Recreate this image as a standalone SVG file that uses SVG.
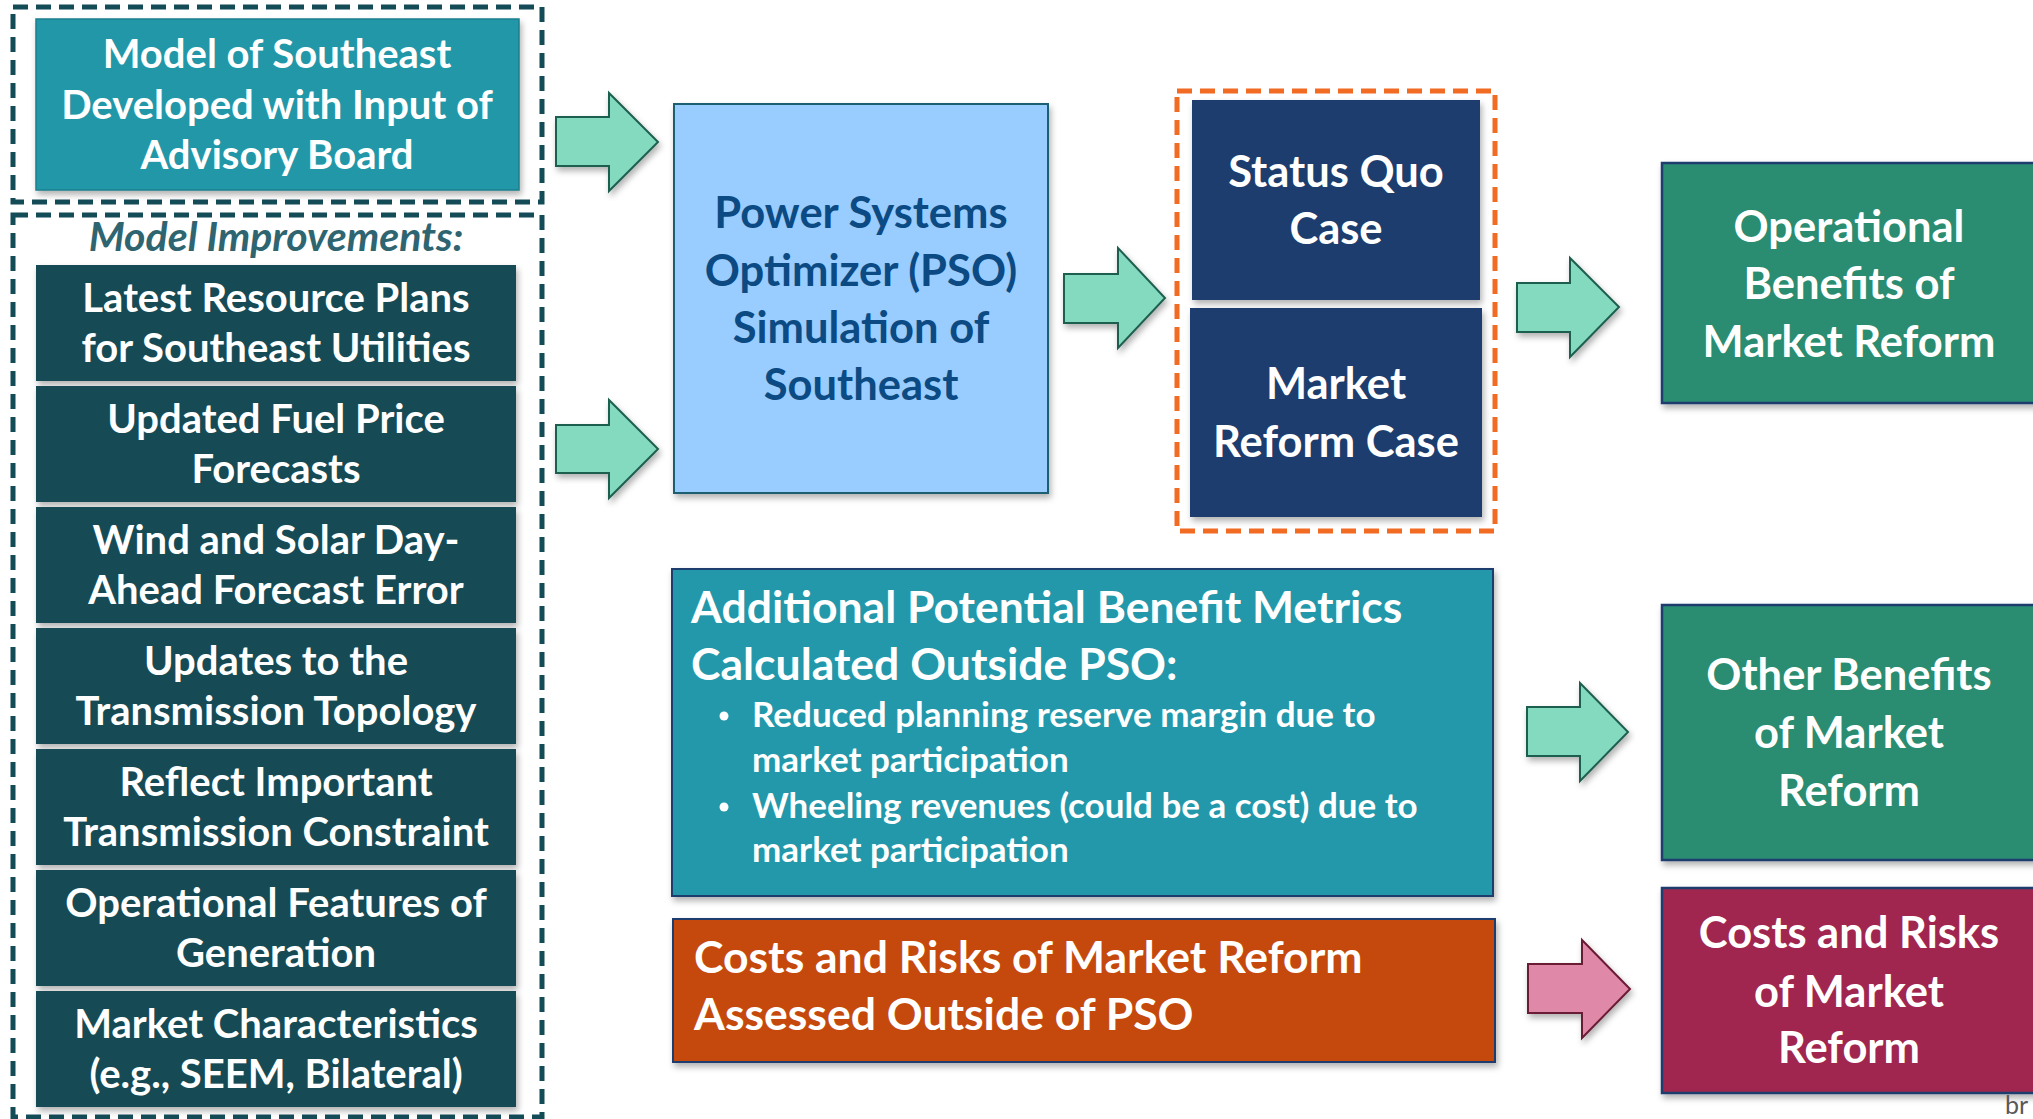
<svg xmlns="http://www.w3.org/2000/svg" width="2033" height="1119" viewBox="0 0 2033 1119">
<defs>
  <filter id="sh" x="-5%" y="-5%" width="112%" height="115%">
    <feDropShadow dx="2" dy="4" stdDeviation="3" flood-color="#000" flood-opacity="0.3"/>
  </filter>
  <style>
    .t { font-family: Lato, "Open Sans", "Liberation Sans", sans-serif; font-weight: 700; fill: #ffffff; }
    .c { text-anchor: middle; }
    .lb { font-size: 40px; }
    .rb { font-size: 43.5px; }
    .bl { font-size: 35px; }
    .dash { fill: none; stroke: #134B57; stroke-width: 5; stroke-dasharray: 15 8; }
    .dark { fill: #134B57; filter: url(#sh); }
    .arrow { fill: #83DABF; stroke: #1F5F4F; stroke-width: 2; filter: url(#sh); }
    .pink { fill: #E088A8; stroke: #6B1A35; stroke-width: 2; filter: url(#sh); }
    .green { fill: #2A8C70; stroke: #1F3C6E; stroke-width: 2.5; filter: url(#sh); }
    .navy { fill: #1E3C6E; filter: url(#sh); }
  </style>
</defs>
<rect width="2033" height="1119" fill="#ffffff"/>

<g id="advisory-group">
  <rect class="dash" x="13" y="7" width="529" height="195"/>
  <g id="model-southeast">
    <rect x="36" y="19" width="483" height="171" fill="#2397A8" stroke="#1E7F8E" stroke-width="1.5" filter="url(#sh)"/>
    <text class="t c lb" x="277" y="68">Model of Southeast</text>
    <text class="t c lb" x="277" y="119">Developed with Input of</text>
    <text class="t c lb" x="277" y="169">Advisory Board</text>
  </g>
</g>

<g id="improvements-group">
  <rect class="dash" x="13" y="215" width="529" height="902"/>
  <text x="276" y="251" font-family="Lato, 'Open Sans', sans-serif" font-weight="700" font-style="italic" font-size="41" fill="#2E6570" text-anchor="middle">Model Improvements:</text>
  <g id="imp1">
    <rect class="dark" x="36" y="265" width="480" height="116"/>
    <text class="t c lb" x="276" y="312">Latest Resource Plans</text>
    <text class="t c lb" x="276" y="362">for Southeast Utilities</text>
  </g>
  <g id="imp2">
    <rect class="dark" x="36" y="386" width="480" height="116"/>
    <text class="t c lb" x="276" y="433">Updated Fuel Price</text>
    <text class="t c lb" x="276" y="483">Forecasts</text>
  </g>
  <g id="imp3">
    <rect class="dark" x="36" y="507" width="480" height="116"/>
    <text class="t c lb" x="276" y="554">Wind and Solar Day-</text>
    <text class="t c lb" x="276" y="604">Ahead Forecast Error</text>
  </g>
  <g id="imp4">
    <rect class="dark" x="36" y="628" width="480" height="116"/>
    <text class="t c lb" x="276" y="675">Updates to the</text>
    <text class="t c lb" x="276" y="725">Transmission Topology</text>
  </g>
  <g id="imp5">
    <rect class="dark" x="36" y="749" width="480" height="116"/>
    <text class="t c lb" x="276" y="796">Reflect Important</text>
    <text class="t c lb" x="276" y="846">Transmission Constraint</text>
  </g>
  <g id="imp6">
    <rect class="dark" x="36" y="870" width="480" height="116"/>
    <text class="t c lb" x="276" y="917">Operational Features of</text>
    <text class="t c lb" x="276" y="967">Generation</text>
  </g>
  <g id="imp7">
    <rect class="dark" x="36" y="991" width="480" height="116"/>
    <text class="t c lb" x="276" y="1038">Market Characteristics</text>
    <text class="t c lb" x="276" y="1088">(e.g., SEEM, Bilateral)</text>
  </g>
</g>

<g id="pso">
  <rect x="674" y="104" width="374" height="389" fill="#99CCFF" stroke="#1F5F6F" stroke-width="2" filter="url(#sh)"/>
  <text class="t c rb" x="861" y="228" style="fill:#0B4A82">Power Systems</text>
  <text class="t c rb" x="861" y="286" style="fill:#0B4A82">Optimizer (PSO)</text>
  <text class="t c rb" x="861" y="343" style="fill:#0B4A82">Simulation of</text>
  <text class="t c rb" x="861" y="400" style="fill:#0B4A82">Southeast</text>
</g>

<g id="cases">
  <rect x="1177" y="91" width="318" height="440" fill="none" stroke="#F26B22" stroke-width="5" stroke-dasharray="15 8"/>
  <g id="status-quo">
    <rect class="navy" x="1192" y="100" width="288" height="200"/>
    <text class="t c rb" x="1336" y="187">Status Quo</text>
    <text class="t c rb" x="1336" y="244">Case</text>
  </g>
  <g id="market-reform-case">
    <rect class="navy" x="1190" y="308" width="292" height="209"/>
    <text class="t c rb" x="1336" y="399">Market</text>
    <text class="t c rb" x="1336" y="457">Reform Case</text>
  </g>
</g>

<g id="operational-benefits">
  <rect class="green" x="1662" y="163" width="390" height="240"/>
  <text class="t c rb" x="1849" y="242">Operational</text>
  <text class="t c rb" x="1849" y="299">Benefits of</text>
  <text class="t c rb" x="1849" y="357">Market Reform</text>
</g>

<g id="additional-metrics">
  <rect x="672" y="569" width="821" height="327" fill="#2398AA" stroke="#1F3C6E" stroke-width="2" filter="url(#sh)"/>
  <text class="t" x="691" y="623" font-size="44.5">Additional Potential Benefit Metrics</text>
  <text class="t" x="691" y="680" font-size="44.5">Calculated Outside PSO:</text>
  <circle cx="724" cy="716" r="4.5" fill="#ffffff"/>
  <text class="t bl" x="752" y="727">Reduced planning reserve margin due to</text>
  <text class="t bl" x="752" y="772">market participation</text>
  <circle cx="724" cy="807" r="4.5" fill="#ffffff"/>
  <text class="t bl" x="752" y="818">Wheeling revenues (could be a cost) due to</text>
  <text class="t bl" x="752" y="862">market participation</text>
</g>

<g id="costs-outside">
  <rect x="673" y="919" width="822" height="143" fill="#C5490D" stroke="#1F3C6E" stroke-width="2" filter="url(#sh)"/>
  <text class="t" x="694" y="973" font-size="44.5">Costs and Risks of Market Reform</text>
  <text class="t" x="694" y="1030" font-size="44.5">Assessed Outside of PSO</text>
</g>

<g id="other-benefits">
  <rect class="green" x="1662" y="605" width="390" height="255"/>
  <text class="t c rb" x="1849" y="690">Other Benefits</text>
  <text class="t c rb" x="1849" y="748">of Market</text>
  <text class="t c rb" x="1849" y="806">Reform</text>
</g>

<g id="costs-risks">
  <rect x="1662" y="888" width="390" height="205" fill="#A02850" stroke="#1F3C6E" stroke-width="2.5" filter="url(#sh)"/>
  <text class="t c rb" x="1849" y="948">Costs and Risks</text>
  <text class="t c rb" x="1849" y="1007">of Market</text>
  <text class="t c rb" x="1849" y="1063">Reform</text>
</g>

<g id="connectors">
  <polygon class="arrow" points="556,117 609,117 609,93 658,142 609,191 609,166 556,166"/>
  <polygon class="arrow" points="556,425 609,425 609,400 658,449 609,498 609,473 556,473"/>
  <polygon class="arrow" points="1064,274 1118,274 1118,248 1165,298 1118,348 1118,323 1064,323"/>
  <polygon class="arrow" points="1517,283 1570,283 1570,258 1619,307 1570,357 1570,332 1517,332"/>
  <polygon class="arrow" points="1527,707 1580,707 1580,683 1628,732 1580,781 1580,756 1527,756"/>
  <polygon class="pink" points="1528,964 1582,964 1582,940 1630,989 1582,1038 1582,1013 1528,1013"/>
</g>

<text x="2005" y="1114" font-family="Lato, 'Open Sans', sans-serif" font-size="25" fill="#595959">br</text>
</svg>
